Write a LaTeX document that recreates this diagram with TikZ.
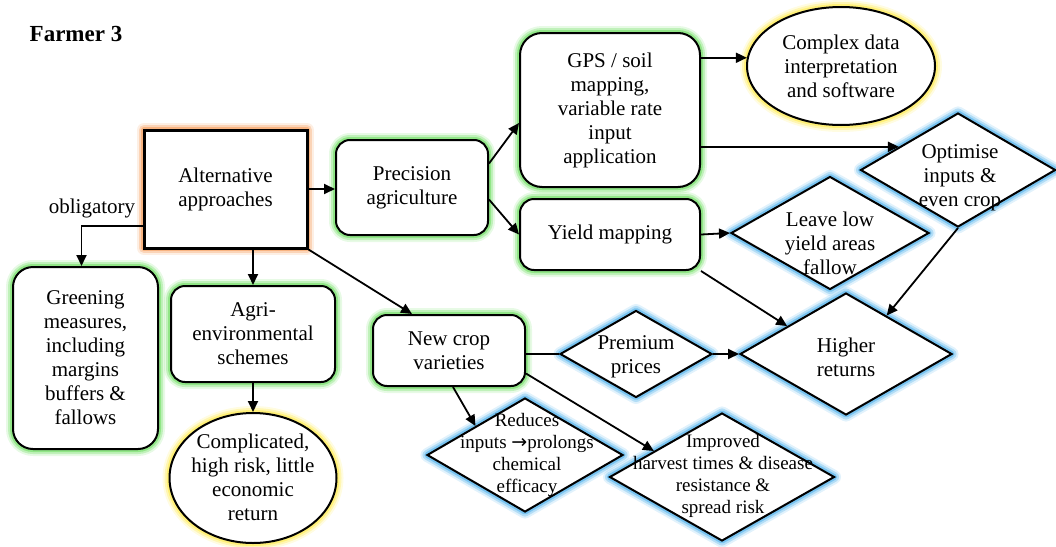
\documentclass[tikz,border=0pt]{standalone}
\usepackage{fontspec}
\setmainfont{Liberation Serif}
\newfontfamily\arrowfont{DejaVu Sans}
\usetikzlibrary{shapes.geometric,arrows.meta,calc}
\definecolor{glowgreen}{RGB}{145,230,135}
\definecolor{gloworange}{RGB}{248,180,130}
\definecolor{glowyellow}{RGB}{255,240,120}
\definecolor{glowblue}{RGB}{120,195,240}
\begin{document}
\begin{tikzpicture}[x=1pt,y=-1pt,
  txt/.style={font=\fontsize{21}{24}\selectfont, align=center, inner sep=0pt},
  smalltxt/.style={font=\fontsize{19}{22}\selectfont, align=center, inner sep=0pt},
  glow/.style={preaction={draw=#1, line width=14pt, opacity=0.22, line join=round},
               preaction={draw=#1, line width=10pt, opacity=0.45, line join=round},
               preaction={draw=#1, line width=6pt, line join=round}},
  rbox/.style={draw=black, line width=2pt, fill=white, rounded corners=14pt, glow=glowgreen, txt},
  mainbox/.style={draw=black, line width=3pt, fill=white, glow=gloworange, txt},
  dia/.style={diamond, draw=black, line width=2pt, fill=white, inner sep=0pt, glow=glowblue},
  ell/.style={ellipse, draw=black, line width=2pt, fill=white, inner sep=0pt, glow=glowyellow},
  arr/.style={line width=1.8pt, -{Triangle[length=11pt,width=10pt]}},
  plain/.style={line width=1.8pt}
]
\useasboundingbox (0,0) rectangle (1056,546);

\node[font=\fontsize{23}{27}\selectfont\bfseries, inner sep=0pt] (title) at (76,34) {Farmer 3};

% main and rounded boxes
\node[mainbox, minimum width=163pt, minimum height=118pt] (alt) at (225.5,189) {Alternative\\approaches};
\node[rbox, minimum width=152pt, minimum height=95pt] (prec) at (412,187.5) {Precision\\agriculture};
\node[rbox, rounded corners=22pt, minimum width=180pt, minimum height=154pt] (gps) at (610,110) {GPS / soil\\mapping,\\variable rate\\input\\application};
\node[rbox, minimum width=180pt, minimum height=71pt] (yield) at (610,234.5) {Yield mapping};
\node[rbox, rounded corners=20pt, minimum width=145pt, minimum height=182pt] (green) at (85.5,358) {Greening\\measures,\\including\\margins\\buffers \&\\fallows};
\node[rbox, minimum width=164pt, minimum height=96pt] (agri) at (253,334) {Agri-\\environmental\\schemes};
\node[rbox, minimum width=152pt, minimum height=71pt] (newc) at (449,350.5) {New crop\\varieties};

% ellipses
\node[ell, minimum width=188pt, minimum height=118pt] (cmplx) at (841,66) {};
\node[ell, minimum width=167pt, minimum height=130pt] (compl) at (253,478) {};

% diamonds
\node[dia, minimum width=195pt, minimum height=114pt] (opt) at (958,170) {};
\node[dia, minimum width=198pt, minimum height=113pt] (leave) at (830,233) {};
\node[dia, minimum width=212pt, minimum height=122pt] (higher) at (846,354) {};
\node[dia, minimum width=152pt, minimum height=87pt] (prem) at (636,354) {};
\node[dia, minimum width=196pt, minimum height=114pt] (red) at (525,455) {};
\node[dia, minimum width=225pt, minimum height=128pt] (imp) at (722,477) {};

% texts of ellipses and diamonds
\node[txt] (cmplxT) at (cmplx) {Complex data\\interpretation\\and software};
\node[txt] (complT) at ([yshift=1pt]compl) {Complicated,\\high risk, little\\economic\\return};
\node[txt] (optT) at (960,178) {Optimise\\inputs \&\\even crop};
\node[txt] (leaveT) at (830,243) {Leave low\\yield areas\\fallow};
\node[txt] (higherT) at (846,357) {Higher\\returns};
\node[txt] (premT) at (636,357) {Premium\\prices};
\node[smalltxt] (redT) at (527,455) {Reduces\\inputs {\arrowfont →}prolongs\\chemical\\efficacy};
\node[smalltxt] (impT) at (723,476) {Improved\\harvest times \& disease\\resistance \&\\spread risk};

\node[txt] (obl) at (92,208) {obligatory};

% connectors
\draw[arr] (alt.east) -- (alt.east -| prec.west);
\draw[arr] ([yshift=-37pt]alt.west) -| ([xshift=-4pt]green.north);
\draw[arr] (agri.north |- alt.south) -- (agri.north);
\draw[arr] (agri.south) -- (compl.north);
\draw[arr] (alt.south east) -- ([xshift=-37pt]newc.north);
\draw[arr] ([yshift=24pt]prec.east) -- ([yshift=-13pt]gps.west);
\draw[arr] ([yshift=-12pt]prec.east) -- (yield.west);
\draw[arr] (gps.east |- cmplx.175) -- (cmplx.175);
\coordinate (optIn) at ($(opt.west)!0.4!(opt.north)$);
\draw[arr] (gps.east |- optIn) -- (optIn);
\draw[arr] (yield.east) -- (leave.west);
\coordinate (higherIn1) at ($(higher.west)!0.45!(higher.north)$);
\draw[arr] (yield.south east) -- (higherIn1);
\coordinate (higherIn2) at ($(higher.north)!0.38!(higher.east)$);
\draw[arr] (opt.south) -- (higherIn2);
\draw[plain] (newc.east |- prem.west) -- (prem.west);
\draw[arr] (prem.east) -- (higher.west);
\coordinate (redIn) at ($(red.west)!0.5!(red.north)$);
\draw[arr] ([xshift=4pt]newc.south) -- (redIn);
\coordinate (impIn) at ($(imp.west)!0.4!(imp.north)$);
\draw[arr] ([yshift=-23pt]newc.east) -- (impIn);
\end{tikzpicture}
\end{document}
